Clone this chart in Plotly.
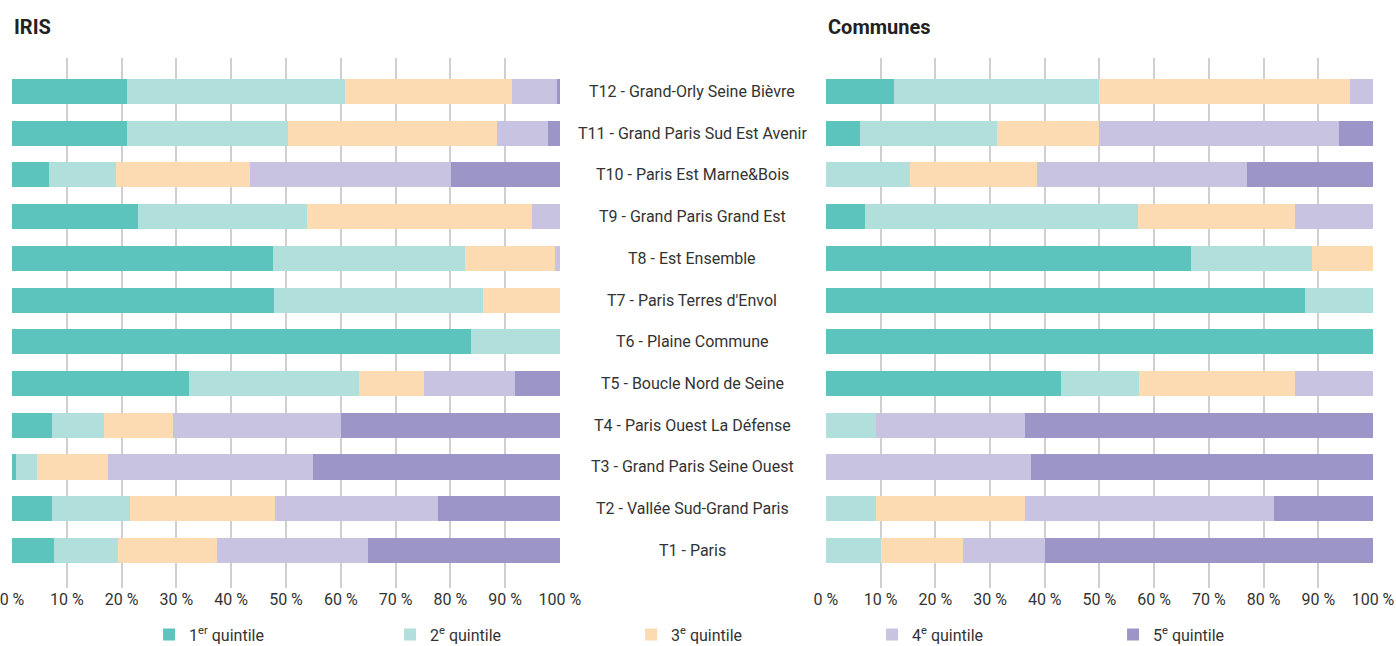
import plotly.graph_objects as go

categories = [
    "T1 - Paris",
    "T2 - Vallée Sud-Grand Paris",
    "T3 - Grand Paris Seine Ouest",
    "T4 - Paris Ouest La Défense",
    "T5 - Boucle Nord de Seine",
    "T6 - Plaine Commune",
    "T7 - Paris Terres d'Envol",
    "T8 - Est Ensemble",
    "T9 - Grand Paris Grand Est",
    "T10 - Paris Est Marne&Bois",
    "T11 - Grand Paris Sud Est Avenir",
    "T12 - Grand-Orly Seine Bièvre",
]

series_names = ["1<sup>er</sup> quintile", "2<sup>e</sup> quintile", "3<sup>e</sup> quintile",
                "4<sup>e</sup> quintile", "5<sup>e</sup> quintile"]
colors = ["#5CC4BC", "#B1DFDB", "#FCDAB2", "#C7C3E0", "#9B95C8"]

# IRIS (order T1..T12)
iris_q1 = [7.7, 7.3, 0.7, 7.3, 32.3, 83.8, 47.8, 47.7, 23.0, 6.8, 21.0, 21.0]
iris_q2 = [11.6, 14.2, 3.9, 9.5, 31.0, 16.2, 38.2, 34.9, 30.9, 12.1, 29.4, 39.8]
iris_q3 = [18.1, 26.5, 13.0, 12.6, 11.9, 0.0, 14.0, 16.5, 41.0, 24.6, 38.1, 30.5]
iris_q4 = [27.6, 29.8, 37.4, 30.7, 16.6, 0.0, 0.0, 0.9, 5.1, 36.6, 9.3, 8.2]
iris_q5 = [35.0, 22.2, 45.0, 39.9, 8.2, 0.0, 0.0, 0.0, 0.0, 19.9, 2.2, 0.5]

# Communes (order T1..T12)
com_q1 = [0.0, 0.0, 0.0, 0.0, 42.9, 100.0, 87.5, 66.7, 7.1, 0.0, 6.25, 12.5]
com_q2 = [10.0, 9.1, 0.0, 9.1, 14.3, 0.0, 12.5, 22.2, 50.0, 15.4, 25.0, 37.5]
com_q3 = [15.0, 27.3, 0.0, 0.0, 28.6, 0.0, 0.0, 11.1, 28.6, 23.1, 18.75, 45.8]
com_q4 = [15.0, 45.5, 37.5, 27.3, 14.3, 0.0, 0.0, 0.0, 14.3, 38.5, 43.75, 4.2]
com_q5 = [60.0, 18.2, 62.5, 63.6, 0.0, 0.0, 0.0, 0.0, 0.0, 23.1, 6.25, 0.0]

tick_vals = [0, 10, 20, 30, 40, 50, 60, 70, 80, 90, 100]
tick_text = [f"{v} %" for v in tick_vals]

iris = [iris_q1, iris_q2, iris_q3, iris_q4, iris_q5]
com = [com_q1, com_q2, com_q3, com_q4, com_q5]

FONT = "Roboto, 'Open Sans', sans-serif"
TXT = "#333333"

fig = go.Figure()
for i in range(5):
    fig.add_trace(go.Bar(
        y=categories, x=iris[i], orientation="h", name=series_names[i],
        marker=dict(color=colors[i], line=dict(width=0)),
        xaxis="x", yaxis="y", legendgroup=str(i), showlegend=True,
        hoverinfo="x+name",
    ))
for i in range(5):
    fig.add_trace(go.Bar(
        y=categories, x=com[i], orientation="h", name=series_names[i],
        marker=dict(color=colors[i], line=dict(width=0)),
        xaxis="x2", yaxis="y2", legendgroup=str(i), showlegend=False,
        hoverinfo="x+name",
    ))

axis_common = dict(
    range=[0, 100], tickvals=tick_vals, ticktext=tick_text,
    showgrid=True, gridcolor="#CFCFCF", gridwidth=1.5,
    zeroline=False, showline=False, ticks="", automargin=False,
    ticklabeloverflow="allow",
    tickfont=dict(family=FONT, size=16, color=TXT), fixedrange=True,
)
yaxis_common = dict(
    categoryorder="array", categoryarray=categories,
    range=[-0.9, 11.8], showticklabels=False, showgrid=False,
    zeroline=False, showline=False, ticks="", fixedrange=True, automargin=False,
)

fig.update_layout(
    barmode="stack",
    bargap=0.4,
    width=1396, height=646,
    margin=dict(l=12, r=23, t=58, b=58, autoexpand=False),
    paper_bgcolor="white", plot_bgcolor="white",
    font=dict(family=FONT, color=TXT),
    xaxis=dict(domain=[0, 0.4026], anchor="y", **axis_common),
    xaxis2=dict(domain=[0.598, 1], anchor="y2", **axis_common),
    yaxis=dict(anchor="x", **yaxis_common),
    yaxis2=dict(anchor="x2", **yaxis_common),
    legend=dict(
        orientation="h", x=0.1007, xanchor="left", y=-0.088, yanchor="middle",
        font=dict(family=FONT, size=16, color=TXT),
        entrywidth=196, entrywidthmode="pixels",
        traceorder="normal", bgcolor="rgba(0,0,0,0)",
    ),
    showlegend=True,
)

annotations = []
for c in categories:
    annotations.append(dict(
        x=0.4997, xref="paper", y=c, yref="y", text=c, showarrow=False,
        xanchor="center", yanchor="middle",
        font=dict(family=FONT, size=16, color=TXT),
    ))
annotations.append(dict(x=0, xref="paper", y=1.058, yref="paper", text="<b>IRIS</b>",
                        showarrow=False, xanchor="left", yanchor="middle",
                        font=dict(family=FONT, size=20, color="#222222")))
annotations.append(dict(x=0.598, xref="paper", y=1.058, yref="paper", text="<b>Communes</b>",
                        showarrow=False, xanchor="left", yanchor="middle",
                        font=dict(family=FONT, size=20, color="#222222")))
fig.update_layout(annotations=annotations)

fig.write_html("out.html", config={"displayModeBar": False},
               post_script="document.body.style.margin='0';")
